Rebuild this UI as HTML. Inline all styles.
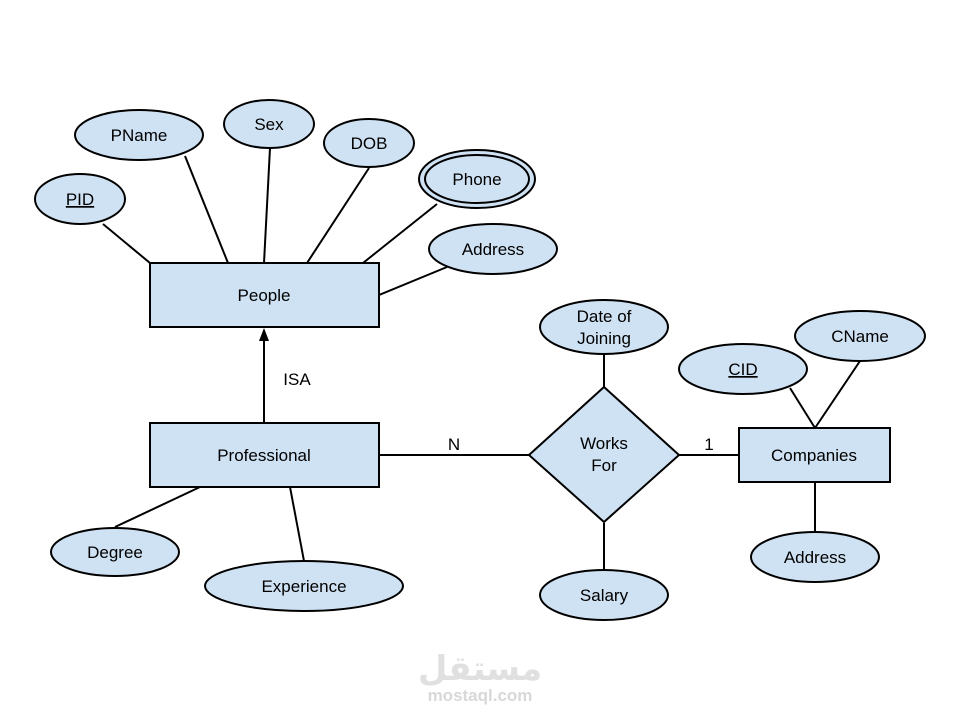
<!DOCTYPE html>
<html><head><meta charset="utf-8"><style>
html,body{margin:0;padding:0;background:#fff;}
svg{display:block;}
text{font-family:"Liberation Sans",Arial,sans-serif;font-size:17px;fill:#000;}
</style></head><body>
<svg width="960" height="720" viewBox="0 0 960 720" xmlns="http://www.w3.org/2000/svg">
<g stroke="#000" stroke-width="2" fill="none">
<line x1="103" y1="224" x2="150" y2="263"/>
<line x1="185" y1="156" x2="228" y2="263"/>
<line x1="270" y1="148" x2="264" y2="263"/>
<line x1="369" y1="168" x2="307" y2="263"/>
<line x1="437" y1="204" x2="363" y2="263"/>
<line x1="447" y1="267" x2="379" y2="295"/>
<line x1="264" y1="422" x2="264" y2="340"/>
<line x1="200" y1="487" x2="115" y2="527"/>
<line x1="290" y1="487" x2="304" y2="561"/>
<line x1="379" y1="455" x2="529" y2="455"/>
<line x1="604" y1="354" x2="604" y2="387"/>
<line x1="604" y1="523" x2="604" y2="570"/>
<line x1="679" y1="455" x2="739" y2="455"/>
<line x1="790" y1="388" x2="815" y2="428"/>
<line x1="860" y1="361" x2="815" y2="428"/>
<line x1="815" y1="482" x2="815" y2="532"/>
</g>
<polygon points="264,328 259,341 269,341" fill="#000"/>
<g fill="#cfe2f3" stroke="#000" stroke-width="2">
<ellipse cx="139" cy="135" rx="64" ry="25"/>
<ellipse cx="269" cy="124" rx="45" ry="24"/>
<ellipse cx="369" cy="143" rx="45" ry="24"/>
<ellipse cx="477" cy="179" rx="58" ry="29"/>
<ellipse cx="477" cy="179" rx="52" ry="24"/>
<ellipse cx="80" cy="199" rx="45" ry="25"/>
<ellipse cx="493" cy="249" rx="64" ry="25"/>
<rect x="150" y="263" width="229" height="64"/>
<rect x="150" y="423" width="229" height="64"/>
<ellipse cx="115" cy="552" rx="64" ry="24"/>
<ellipse cx="304" cy="586" rx="99" ry="25"/>
<polygon points="604,387 679,455 604,522 529,455"/>
<ellipse cx="604" cy="327" rx="64" ry="27"/>
<ellipse cx="604" cy="595" rx="64" ry="25"/>
<rect x="739" y="428" width="151" height="54"/>
<ellipse cx="743" cy="369" rx="64" ry="25"/>
<ellipse cx="860" cy="336" rx="65" ry="25"/>
<ellipse cx="815" cy="557" rx="64" ry="25"/>
</g>
<g text-anchor="middle">
<text x="139" y="141">PName</text>
<text x="269" y="130">Sex</text>
<text x="369" y="149">DOB</text>
<text x="477" y="185">Phone</text>
<text x="80" y="205" text-decoration="underline">PID</text>
<text x="493" y="255">Address</text>
<text x="264" y="301">People</text>
<text x="264" y="461">Professional</text>
<text x="297" y="385">ISA</text>
<text x="115" y="558">Degree</text>
<text x="304" y="592">Experience</text>
<text x="454" y="450">N</text>
<text x="709" y="450">1</text>
<text x="604" y="449">Works</text>
<text x="604" y="471">For</text>
<text x="604" y="322">Date of</text>
<text x="604" y="344">Joining</text>
<text x="604" y="601">Salary</text>
<text x="814" y="461">Companies</text>
<text x="743" y="375" text-decoration="underline">CID</text>
<text x="860" y="342">CName</text>
<text x="815" y="563">Address</text>
<text x="480" y="701" style="font-size:17px;fill:#d8d8d8;font-weight:bold">mostaql.com</text>
<text x="480" y="680" style="font-size:34px;fill:#e0e0e0;font-weight:bold;font-family:'DejaVu Sans',sans-serif">مستقل</text>
</g>
</svg>
</body></html>
